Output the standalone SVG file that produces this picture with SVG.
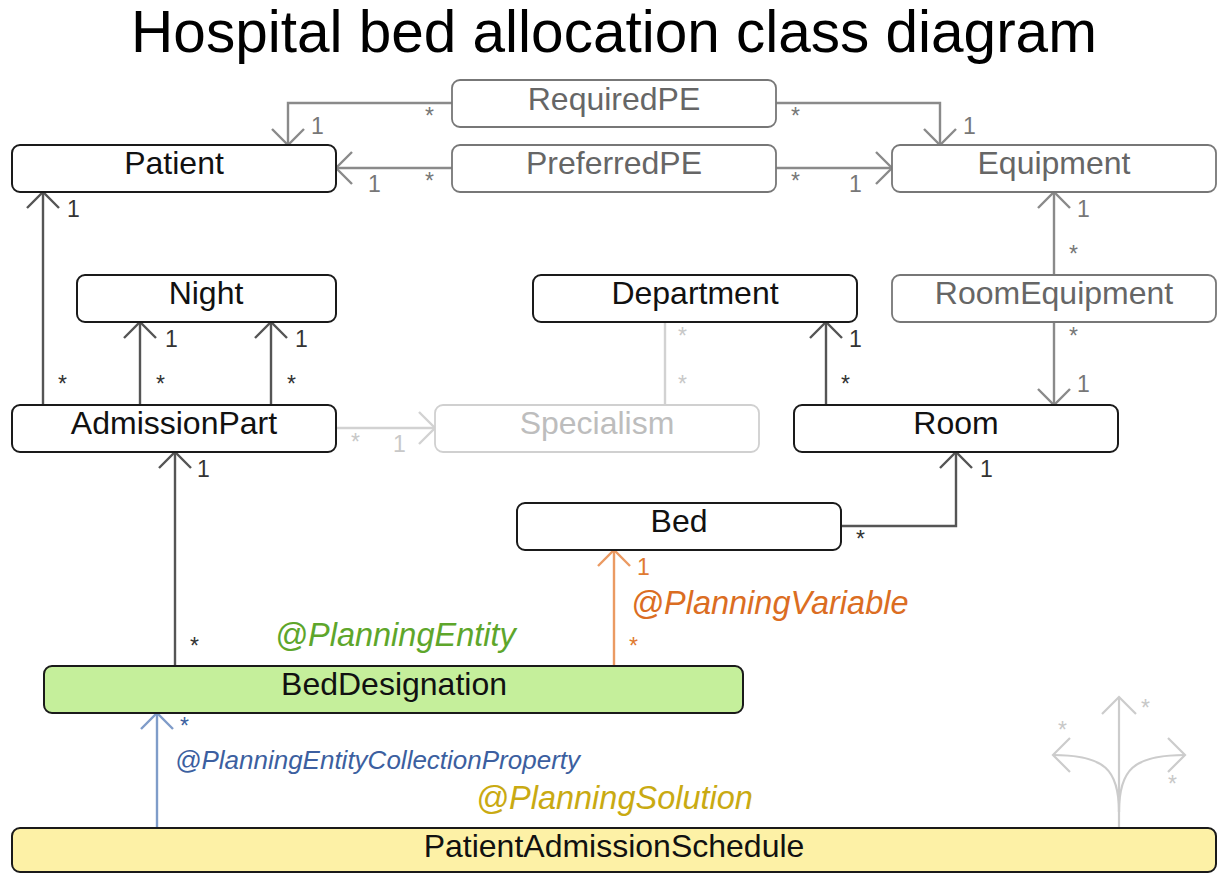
<svg xmlns="http://www.w3.org/2000/svg" width="1218" height="874" viewBox="0 0 1218 874">
  <defs>
    <style>
      text { font-family: "Liberation Sans", Arial, sans-serif; }
      .title { font-size: 58.5px; fill: #000; text-anchor: middle; }
      .box { fill: #fff; stroke: #1a1a1a; stroke-width: 2; }
      .box-gray { fill: #fff; stroke: #777; stroke-width: 1.8; }
      .box-light { fill: #fff; stroke: #d0d0d0; stroke-width: 1.8; }
      .name { font-size: 32px; fill: #111; text-anchor: middle; }
      .name-gray { font-size: 32px; fill: #666; text-anchor: middle; }
      .name-light { font-size: 32px; fill: #bdbdbd; text-anchor: middle; }
      .c-dark { fill: none; stroke: #555; stroke-width: 2.4; }
      .c-gray { fill: none; stroke: #8a8a8a; stroke-width: 2.4; }
      .c-light { fill: none; stroke: #d2d2d2; stroke-width: 2.4; }
      .c-orange { fill: none; stroke: #eb9a62; stroke-width: 2.4; }
      .c-blue { fill: none; stroke: #7f9cc9; stroke-width: 2.4; }
      .c-deco { fill: none; stroke: #cccccc; stroke-width: 2.2; }
      .m { font-size: 23px; }
      .m-dark { fill: #333; }
      .m-gray { fill: #777; }
      .m-light { fill: #c8c8c8; }
      .m-orange { fill: #e07a30; }
      .m-blue { fill: #3c5fa0; }
      .ann { font-style: italic; font-size: 32.5px; }
    </style>
    <marker id="arr-dark" markerUnits="userSpaceOnUse" orient="auto" refX="0" refY="0" markerWidth="40" markerHeight="40" overflow="visible">
      <path d="M-16,-16 L0,0 L-16,16" fill="none" stroke="#555" stroke-width="2.4"/>
    </marker>
    <marker id="arr-gray" markerUnits="userSpaceOnUse" orient="auto" refX="0" refY="0" markerWidth="40" markerHeight="40" overflow="visible">
      <path d="M-16,-16 L0,0 L-16,16" fill="none" stroke="#8a8a8a" stroke-width="2.4"/>
    </marker>
    <marker id="arr-light" markerUnits="userSpaceOnUse" orient="auto" refX="0" refY="0" markerWidth="40" markerHeight="40" overflow="visible">
      <path d="M-16,-16 L0,0 L-16,16" fill="none" stroke="#d2d2d2" stroke-width="2.4"/>
    </marker>
    <marker id="arr-orange" markerUnits="userSpaceOnUse" orient="auto" refX="0" refY="0" markerWidth="40" markerHeight="40" overflow="visible">
      <path d="M-16,-16 L0,0 L-16,16" fill="none" stroke="#eb9a62" stroke-width="2.4"/>
    </marker>
    <marker id="arr-blue" markerUnits="userSpaceOnUse" orient="auto" refX="0" refY="0" markerWidth="40" markerHeight="40" overflow="visible">
      <path d="M-16,-16 L0,0 L-16,16" fill="none" stroke="#7f9cc9" stroke-width="2.4"/>
    </marker>
    <marker id="arr-deco" markerUnits="userSpaceOnUse" orient="auto" refX="0" refY="0" markerWidth="40" markerHeight="40" overflow="visible">
      <path d="M-17,-17 L0,0 L-17,17" fill="none" stroke="#cccccc" stroke-width="2.2"/>
    </marker>
  </defs>

  <rect width="1218" height="874" fill="#fff"/>

  <text class="title" x="614" y="52">Hospital bed allocation class diagram</text>

  <!-- associations -->
  <g id="connectors">
    <!-- RequiredPE -> Patient / Equipment -->
    <path class="c-gray" d="M452,103 H288 V145" marker-end="url(#arr-gray)"/>
    <path class="c-gray" d="M776,103 H940 V145" marker-end="url(#arr-gray)"/>
    <!-- PreferredPE -> Patient / Equipment -->
    <path class="c-gray" d="M452,168 H336" marker-end="url(#arr-gray)"/>
    <path class="c-gray" d="M776,168 H892" marker-end="url(#arr-gray)"/>
    <!-- RoomEquipment -> Equipment / Room -->
    <path class="c-gray" d="M1054,275 V192" marker-end="url(#arr-gray)"/>
    <path class="c-gray" d="M1054,322 V405" marker-end="url(#arr-gray)"/>
    <!-- AdmissionPart -> Patient / Night -->
    <path class="c-dark" d="M43,405 V192" marker-end="url(#arr-dark)"/>
    <path class="c-dark" d="M140,405 V322" marker-end="url(#arr-dark)"/>
    <path class="c-dark" d="M271,405 V322" marker-end="url(#arr-dark)"/>
    <!-- AdmissionPart -> Specialism -->
    <path class="c-light" d="M336,428 H435" marker-end="url(#arr-light)"/>
    <!-- Department - Specialism -->
    <path class="c-light" d="M665,322 V405"/>
    <!-- Room -> Department -->
    <path class="c-dark" d="M826,405 V322" marker-end="url(#arr-dark)"/>
    <!-- Bed -> Room -->
    <path class="c-dark" d="M841,526 H956 V452" marker-end="url(#arr-dark)"/>
    <!-- BedDesignation -> AdmissionPart -->
    <path class="c-dark" d="M175,666 V452" marker-end="url(#arr-dark)"/>
    <!-- BedDesignation -> Bed (planning variable) -->
    <path class="c-orange" d="M614,666 V550" marker-end="url(#arr-orange)"/>
    <!-- PatientAdmissionSchedule -> BedDesignation -->
    <path class="c-blue" d="M157,828 V713" marker-end="url(#arr-blue)"/>
    <!-- solution fan-out -->
    <path class="c-deco" d="M1119,828 V697" marker-end="url(#arr-deco)"/>
    <path class="c-deco" d="M1119,812 C1119,770 1105,755 1053,755" marker-end="url(#arr-deco)"/>
    <path class="c-deco" d="M1119,812 C1119,770 1133,755 1185,755" marker-end="url(#arr-deco)"/>

    <!-- multiplicities -->
    <text class="m m-gray" x="425" y="124">*</text>
    <text class="m m-gray" x="311" y="134">1</text>
    <text class="m m-gray" x="791" y="124">*</text>
    <text class="m m-gray" x="963" y="134">1</text>
    <text class="m m-gray" x="368" y="192">1</text>
    <text class="m m-gray" x="425" y="189">*</text>
    <text class="m m-gray" x="791" y="189">*</text>
    <text class="m m-gray" x="849" y="192">1</text>
    <text class="m m-gray" x="1077" y="217">1</text>
    <text class="m m-gray" x="1069" y="262">*</text>
    <text class="m m-gray" x="1069" y="344">*</text>
    <text class="m m-gray" x="1077" y="392">1</text>
    <text class="m m-dark" x="67" y="217">1</text>
    <text class="m m-dark" x="58" y="392">*</text>
    <text class="m m-dark" x="165" y="347">1</text>
    <text class="m m-dark" x="156" y="392">*</text>
    <text class="m m-dark" x="295" y="347">1</text>
    <text class="m m-dark" x="287" y="392">*</text>
    <text class="m m-light" x="351" y="450">*</text>
    <text class="m m-light" x="393" y="452">1</text>
    <text class="m m-light" x="678" y="344">*</text>
    <text class="m m-light" x="678" y="392">*</text>
    <text class="m m-dark" x="849" y="347">1</text>
    <text class="m m-dark" x="841" y="392">*</text>
    <text class="m m-dark" x="856" y="547">*</text>
    <text class="m m-dark" x="980" y="477">1</text>
    <text class="m m-dark" x="197" y="477">1</text>
    <text class="m m-dark" x="190" y="654">*</text>
    <text class="m m-orange" x="637" y="575">1</text>
    <text class="m m-orange" x="629" y="654">*</text>
    <text class="m m-blue" x="180" y="734">*</text>
    <text class="m m-light" x="1058" y="738">*</text>
    <text class="m m-light" x="1141" y="716">*</text>
    <text class="m m-light" x="1168" y="792">*</text>

    <!-- annotations -->
    <text class="ann" x="631" y="614" fill="#db6d22">@PlanningVariable</text>
    <text class="ann" x="175" y="769" fill="#3c5fa0" style="font-size:26px">@PlanningEntityCollectionProperty</text>
  </g>

  <g id="node-RequiredPE">
    <rect class="box-gray" x="452" y="80" width="324" height="47" rx="8"/>
    <text class="name-gray" x="614" y="110">RequiredPE</text>
  </g>
  <g id="node-Patient">
    <rect class="box" x="12" y="145" width="324" height="47" rx="8"/>
    <text class="name" x="174" y="174">Patient</text>
  </g>
  <g id="node-PreferredPE">
    <rect class="box-gray" x="452" y="145" width="324" height="47" rx="8"/>
    <text class="name-gray" x="614" y="174">PreferredPE</text>
  </g>
  <g id="node-Equipment">
    <rect class="box-gray" x="892" y="145" width="324" height="47" rx="8"/>
    <text class="name-gray" x="1054" y="174">Equipment</text>
  </g>
  <g id="node-Night">
    <rect class="box" x="77" y="275" width="259" height="47" rx="8"/>
    <text class="name" x="206" y="304">Night</text>
  </g>
  <g id="node-Department">
    <rect class="box" x="533" y="275" width="324" height="47" rx="8"/>
    <text class="name" x="695" y="304">Department</text>
  </g>
  <g id="node-RoomEquipment">
    <rect class="box-gray" x="892" y="275" width="324" height="47" rx="8"/>
    <text class="name-gray" x="1054" y="304">RoomEquipment</text>
  </g>
  <g id="node-AdmissionPart">
    <rect class="box" x="12" y="405" width="324" height="47" rx="8"/>
    <text class="name" x="174" y="434">AdmissionPart</text>
  </g>
  <g id="node-Specialism">
    <rect class="box-light" x="435" y="405" width="324" height="47" rx="8"/>
    <text class="name-light" x="597" y="434">Specialism</text>
  </g>
  <g id="node-Room">
    <rect class="box" x="794" y="405" width="324" height="47" rx="8"/>
    <text class="name" x="956" y="434">Room</text>
  </g>
  <g id="node-Bed">
    <rect class="box" x="517" y="503" width="324" height="47" rx="8"/>
    <text class="name" x="679" y="532">Bed</text>
  </g>
  <g id="node-BedDesignation">
    <text class="ann" x="275" y="646" fill="#5ea62b">@PlanningEntity</text>
    <rect class="box" x="44" y="666" width="699" height="47" rx="8" style="fill:#c5ef9b"/>
    <text class="name" x="394" y="695">BedDesignation</text>
  </g>
  <g id="node-PatientAdmissionSchedule">
    <text class="ann" x="476" y="809" fill="#c9aa12">@PlanningSolution</text>
    <rect class="box" x="12" y="828" width="1204" height="44" rx="8" style="fill:#fdf1a6"/>
    <text class="name" x="614" y="857">PatientAdmissionSchedule</text>
  </g>
</svg>
